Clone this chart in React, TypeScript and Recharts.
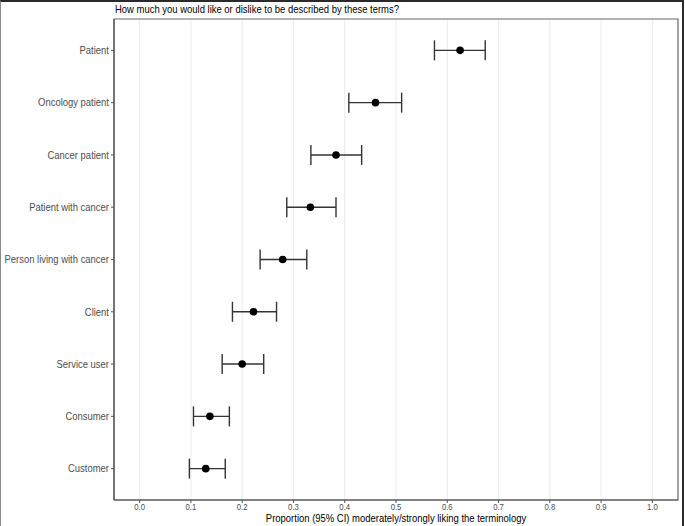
import React from "react";
import {
  ScatterChart,
  Scatter,
  ErrorBar,
  XAxis,
  YAxis,
  CartesianGrid,
  ReferenceArea,
} from "recharts";

// terms, top to bottom
const terms = [
  "Patient",
  "Oncology patient",
  "Cancer patient",
  "Patient with cancer",
  "Person living with cancer",
  "Client",
  "Service user",
  "Consumer",
  "Customer",
];
const proportion = [0.625, 0.46, 0.383, 0.333, 0.279, 0.222, 0.2, 0.137, 0.129];
const ciLow = [0.575, 0.408, 0.334, 0.287, 0.235, 0.181, 0.161, 0.105, 0.097];
const ciHigh = [0.674, 0.511, 0.433, 0.383, 0.326, 0.267, 0.242, 0.175, 0.167];
const xTicks = [0, 0.1, 0.2, 0.3, 0.4, 0.5, 0.6, 0.7, 0.8, 0.9, 1.0];

const FONT = '"Liberation Sans", Arial, sans-serif';
// the original uses a narrow Helvetica; squeeze Liberation Sans to match
const SQUEEZE = 0.86;

const data = terms.map((term, i) => ({
  term,
  idx: i,
  p: proportion[i],
  err: [proportion[i] - ciLow[i], ciHigh[i] - proportion[i]],
}));

const Dot = (props: any) => {
  const { cx, cy } = props;
  return <circle cx={cx} cy={cy} r={3.8} fill="#000" />;
};

// single-line category label (no wrapping)
const TermTick = (props: any) => {
  const { x, y, payload } = props;
  return (
    <g transform={`translate(${x},${y}) scale(${SQUEEZE},1)`}>
      <text
        x={0}
        y={0}
        textAnchor="end"
        dominantBaseline="central"
        fontSize={11}
        fill="#4d4d4d"
        fontFamily={FONT}
      >
        {terms[payload.value] ?? ""}
      </text>
    </g>
  );
};

const NumTick = (props: any) => {
  const { x, y, payload } = props;
  return (
    <g transform={`translate(${x},${y}) scale(${SQUEEZE},1)`}>
      <text
        x={0}
        y={0}
        dy="0.71em"
        textAnchor="middle"
        fontSize={9}
        fill="#4d4d4d"
        fontFamily={FONT}
      >
        {Number(payload.value).toFixed(1)}
      </text>
    </g>
  );
};

export default function App() {
  return (
    <div
      style={{
        position: "absolute",
        left: 0,
        top: 0,
        width: 685,
        height: 526,
        background: "#fff",
        fontFamily: FONT,
      }}
    >
      <ScatterChart
        width={685}
        height={526}
        margin={{ top: 19, right: 7, bottom: 0, left: 0 }}
        style={{ position: "absolute", left: 0, top: 0 }}
      >
        <CartesianGrid
          horizontal={false}
          stroke="#ebebeb"
          strokeWidth={1}
          verticalValues={xTicks}
        />
        <XAxis
          type="number"
          dataKey="p"
          domain={[-0.05, 1.05]}
          ticks={xTicks}
          allowDataOverflow
          tick={<NumTick />}
          tickSize={3}
          tickMargin={1}
          axisLine={{ stroke: "#555", strokeWidth: 1.2 }}
          tickLine={{ stroke: "#555" }}
          height={26}
        />
        <YAxis
          type="number"
          dataKey="idx"
          domain={[-0.6, 8.6]}
          reversed
          ticks={terms.map((_, i) => i)}
          interval={0}
          tick={<TermTick />}
          tickSize={3}
          tickMargin={2}
          axisLine={{ stroke: "#555", strokeWidth: 1.2 }}
          tickLine={{ stroke: "#555" }}
          width={114}
        />
        <ReferenceArea
          x1={-0.05}
          x2={1.05}
          y1={-0.6}
          y2={8.6}
          fill="none"
          stroke="#666"
          strokeWidth={1.2}
          ifOverflow="visible"
        />
        <Scatter data={data} shape={<Dot />} isAnimationActive={false}>
          <ErrorBar
            dataKey="err"
            direction="x"
            width={10}
            stroke="#333"
            strokeWidth={1.4}
            isAnimationActive={false}
          />
        </Scatter>
      </ScatterChart>
      <div
        style={{
          position: "absolute",
          left: 115,
          top: 2,
          fontSize: 11,
          color: "#000",
          lineHeight: "14px",
          whiteSpace: "nowrap",
          transform: `scaleX(${SQUEEZE})`,
          transformOrigin: "0 0",
        }}
      >
        How much you would like or dislike to be described by these terms?
      </div>
      <div
        style={{
          position: "absolute",
          left: 396,
          top: 513,
          fontSize: 11,
          color: "#000",
          lineHeight: "11px",
          whiteSpace: "nowrap",
          transform: `translateX(-50%) scaleX(${SQUEEZE})`,
          transformOrigin: "50% 0",
        }}
      >
        Proportion (95% CI) moderately/strongly liking the terminology
      </div>
      <div
        style={{
          position: "absolute",
          left: 0,
          top: 0,
          width: 684,
          height: 530,
          borderTop: "2px solid #2a2a2a",
          borderLeft: "1px solid #8a8a8a",
          borderRight: "2px solid #2a2a2a",
          boxSizing: "border-box",
          pointerEvents: "none",
        }}
      />
    </div>
  );
}
